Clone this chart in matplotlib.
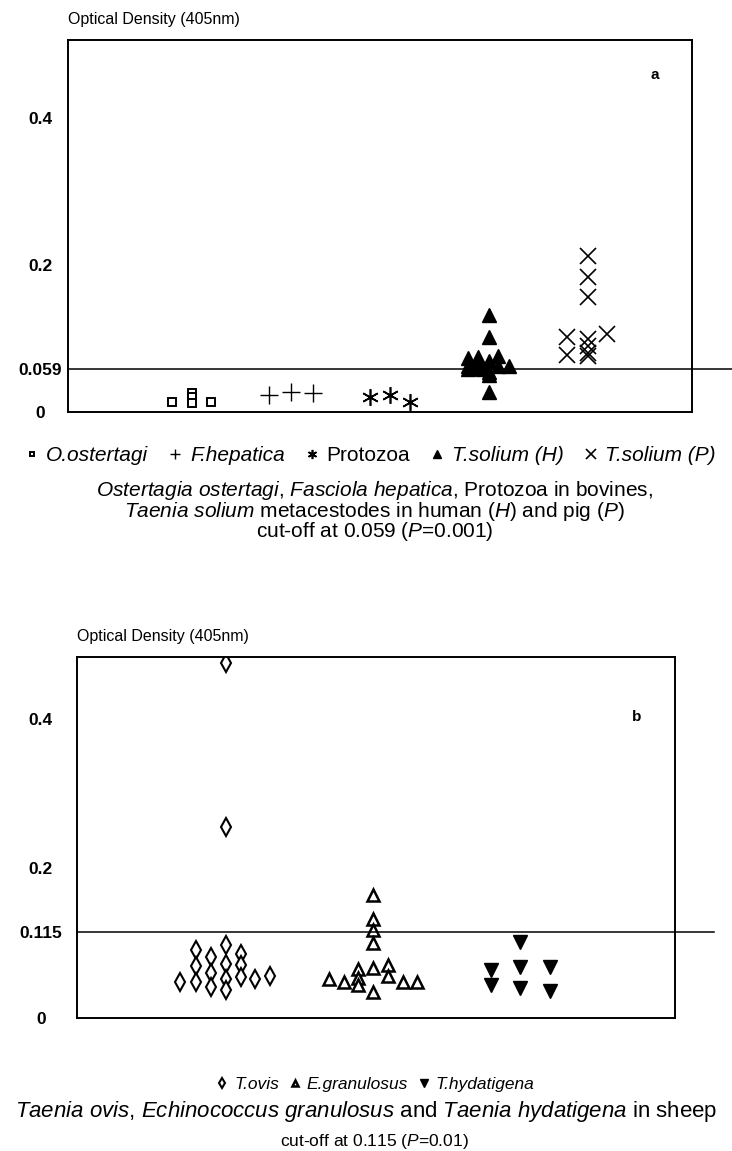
import matplotlib
matplotlib.use("Agg")
import matplotlib.pyplot as plt
from matplotlib.lines import Line2D

plt.rcParams['font.family'] = ['Liberation Sans', 'DejaVu Sans']
plt.rcParams['mathtext.fontset'] = 'custom'
plt.rcParams['mathtext.rm'] = 'Liberation Sans'
plt.rcParams['mathtext.it'] = 'Liberation Sans:italic'

# ---- panel a: bovine / human / pig sera ----
groups_a = ['O.ostertagi', 'F.hepatica', 'Protozoa', 'T.solium (H)', 'T.solium (P)']
cutoff_a = 0.059

ostertagi_x = [-0.2, 0.0, 0.0, 0.0, 0.19]
ostertagi_y = [0.014, 0.026, 0.020, 0.012, 0.014]
hepatica_x = [-0.22, 0.0, 0.22]
hepatica_y = [0.023, 0.027, 0.026]
protozoa_x = [-0.2, 0.0, 0.2]
protozoa_y = [0.020, 0.023, 0.014]
solium_h_x = [0.0, 0.0, -0.21, -0.11, 0.09, 0.0, 0.2, -0.21, -0.15, -0.06, 0.09, -0.11, 0.0, 0.0, -0.21, 0.0]
solium_h_y = [0.132, 0.102, 0.073, 0.075, 0.076, 0.070, 0.063, 0.062, 0.060, 0.058, 0.063, 0.066, 0.055,
              0.050, 0.058, 0.027]
solium_p_x = [0.0, 0.0, 0.0, -0.21, 0.0, 0.19, -0.21, 0.0, 0.0, 0.0]
solium_p_y = [0.212, 0.184, 0.156, 0.102, 0.100, 0.106, 0.078, 0.090, 0.080, 0.076]

# ---- panel b: sheep sera ----
groups_b = ['T.ovis', 'E.granulosus', 'T.hydatigena']
cutoff_b = 0.115

ovis_x = [0.0, 0.0, -0.31, -0.2, -0.2, -0.2, -0.1, -0.1, -0.1, 0.0, 0.0, 0.0, 0.0, 0.1, 0.1, 0.1, 0.2, 0.3]
ovis_y = [0.475, 0.255, 0.048, 0.091, 0.070, 0.048, 0.082, 0.060, 0.041, 0.098, 0.072, 0.052, 0.037,
          0.086, 0.071, 0.055, 0.052, 0.056]
gran_x = [0.0, 0.0, 0.0, 0.0, -0.3, -0.2, -0.1, -0.1, -0.1, 0.0, 0.0, 0.1, 0.1, 0.2, 0.3]
gran_y = [0.164, 0.132, 0.118, 0.100, 0.052, 0.048, 0.066, 0.053, 0.044, 0.067, 0.035, 0.071, 0.056,
          0.048, 0.048]
hyd_x = [0.0, -0.2, -0.2, 0.0, 0.0, 0.2, 0.2]
hyd_y = [0.102, 0.064, 0.044, 0.068, 0.040, 0.068, 0.036]

fig = plt.figure(figsize=(7.32, 11.51), dpi=100)
ax1 = fig.add_axes([0.0929, 0.642, 0.8525, 0.3232])
ax2 = fig.add_axes([0.1052, 0.1156, 0.817, 0.3136])

styles_a = [
    dict(marker='s', ms=6, mfc='white', mec='black', mew=1.4),
    dict(marker='+', ms=13, mec='black', mew=1.0),
    dict(marker=(6, 2, 0), ms=12, mec='black', mew=1.2),
    dict(marker='^', ms=10, mfc='black', mec='black'),
    dict(marker='x', ms=12, mec='black', mew=1.2),
]
data_a = [(ostertagi_x, ostertagi_y), (hepatica_x, hepatica_y), (protozoa_x, protozoa_y),
          (solium_h_x, solium_h_y), (solium_p_x, solium_p_y)]
for i, ((xs, ys), st) in enumerate(zip(data_a, styles_a)):
    ax1.plot([i + dx for dx in xs], ys, ls='none', **st)

styles_b = [
    dict(marker='d', ms=9, mfc='white', mec='black', mew=1.5),
    dict(marker='^', ms=9, mfc='white', mec='black', mew=1.8),
    dict(marker='v', ms=10, mfc='black', mec='black'),
]
data_b = [(ovis_x, ovis_y), (gran_x, gran_y), (hyd_x, hyd_y)]
for i, ((xs, ys), st) in enumerate(zip(data_b, styles_b)):
    ax2.plot([i + dx for dx in xs], ys, ls='none', **st)

for ax, cut, xlim, ylim, tag, pad in [(ax1, cutoff_a, (-1.25, 5.05), (0, 0.506), 'a', 20),
                                       (ax2, cutoff_b, (-1.01, 3.05), (0, 0.483), 'b', 26)]:
    ax.set_xlim(*xlim)
    ax.set_ylim(*ylim)
    ax.set_xticks([])
    ax.set_yticks([0, cut, 0.2, 0.4])
    ax.set_yticklabels(['0', f'{cut:g}', '0.2', '0.4'], fontsize=12.5, fontweight='bold', ha='center')
    ax.tick_params(axis='y', length=0, pad=pad)
    for s in ax.spines.values():
        s.set_linewidth(1.4)
    ax.axhline(cut, xmin=0, xmax=1.065, color='black', lw=1.1, clip_on=False)
    ax.text(0.0, 1.035, 'Optical Density (405nm)', transform=ax.transAxes, fontsize=11.5,
            ha='left', va='bottom')
    ax.text(0.94 if tag == 'a' else 0.935, 0.905 if tag == 'a' else 0.835, tag,
            transform=ax.transAxes, fontsize=11, fontweight='bold', ha='center', va='center')

# legends
handles_a = [Line2D([], [], ls='none', **{**st, 'ms': st['ms'] * 0.55}) for st in styles_a]
leg_a = fig.legend(handles_a, groups_a, loc='center', bbox_to_anchor=(0.505, 0.604), ncol=5,
                   frameon=False, handlelength=0.8, handletextpad=0.3,
                   columnspacing=0.9, prop={'style': 'italic', 'size': 15})
leg_a.get_texts()[2].set_style('normal')

handles_b = [Line2D([], [], ls='none', **{**st, 'ms': st['ms'] * 0.55}) for st in styles_b]
fig.legend(handles_b, groups_b, loc='center', bbox_to_anchor=(0.512, 0.058), ncol=3,
           frameon=False, handlelength=0.8, handletextpad=0.3, columnspacing=0.5,
           prop={'style': 'italic', 'size': 12.5})

# captions
fs = 15
fig.text(0.512, 0.574, r'$\mathit{Ostertagia\ ostertagi}$, $\mathit{Fasciola\ hepatica}$, Protozoa in bovines,',
         ha='center', va='center', fontsize=fs)
fig.text(0.512, 0.556, r'$\mathit{Taenia\ solium}$ metacestodes in human $\mathit{(H)}$ and pig $\mathit{(P)}$',
         ha='center', va='center', fontsize=fs)
fig.text(0.512, 0.538, r'cut-off at 0.059 ($\mathit{P}$=0.001)', ha='center', va='center', fontsize=fs)

fig.text(0.500, 0.034, r'$\mathit{Taenia\ ovis}$, $\mathit{Echinococcus\ granulosus}$ and $\mathit{Taenia\ hydatigena}$ in sheep',
         ha='center', va='center', fontsize=16)
fig.text(0.512, 0.008, r'cut-off at 0.115 ($\mathit{P}$=0.01)', ha='center', va='center', fontsize=12.5)

fig.savefig('out.png', dpi=100)
